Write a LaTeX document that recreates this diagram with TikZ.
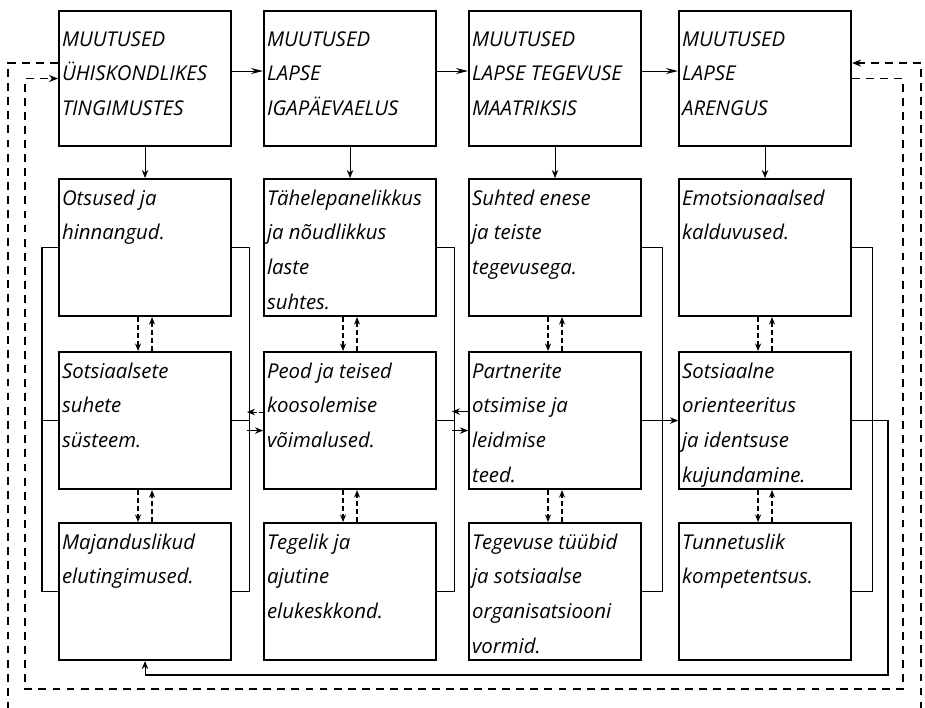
\documentclass[tikz,border=0pt]{standalone}
\usepackage{fontspec}
\setmainfont{Open Sans}
\usetikzlibrary{arrows.meta}

\newcommand{\boxfont}{\fontsize{11.6}{19.8}\selectfont\itshape}
\newcommand{\headtxt}[1]{\parbox[t][2.70cm][t]{3.32cm}{\boxfont\raggedright\rule{0pt}{0.70cm}#1}}
\newcommand{\celltxt}[1]{\parbox[t][2.74cm][t]{3.32cm}{\boxfont\raggedright\rule{0pt}{0.52cm}#1}}

\begin{document}
\begin{tikzpicture}[x=0.02cm,y=-0.02cm,
box/.style={draw,line width=1.2pt,anchor=north west,inner xsep=0.06cm,inner ysep=0pt},
link/.style={line width=0.6pt},
arr/.style={line width=0.6pt,-{Stealth[length=2.4mm,width=1.2mm]}},
tip/.style={line width=0.6pt,-{Stealth[length=1.6mm,width=1.3mm]}},
pair/.style={line width=0.7pt,dash pattern=on 2.8pt off 1.8pt,-{Stealth[length=1.5mm,width=1.2mm]}},
loopline/.style={line width=0.9pt,dash pattern=on 4.5pt off 3.5pt}
]
\useasboundingbox (0,0) rectangle (925,707);
\clip (0,0) rectangle (925,707);
% headers
\node[box] (h1) at (58,10) {\headtxt{MUUTUSED\\ÜHISKONDLIKES\\TINGIMUSTES}};
\node[box] (h2) at (263,10) {\headtxt{MUUTUSED\\LAPSE\\IGAPÄEVAELUS}};
\node[box] (h3) at (468,10) {\headtxt{MUUTUSED\\LAPSE TEGEVUSE\\MAATRIKSIS}};
\node[box] (h4) at (678,10) {\headtxt{MUUTUSED\\LAPSE\\ARENGUS}};
% first row
\node[box] (a1) at (58,178) {\celltxt{Otsused ja\\hinnangud.}};
\node[box] (a2) at (263,178) {\celltxt{Tähelepanelikkus\\ja nõudlikkus\\laste\\suhtes.}};
\node[box] (a3) at (468,178) {\celltxt{Suhted enese\\ja teiste\\tegevusega.}};
\node[box] (a4) at (678,178) {\celltxt{Emotsionaalsed\\kalduvused.}};
% second row
\node[box] (b1) at (58,351) {\celltxt{Sotsiaalsete\\suhete\\süsteem.}};
\node[box] (b2) at (263,351) {\celltxt{Peod ja teised\\koosolemise\\võimalused.}};
\node[box] (b3) at (468,351) {\celltxt{Partnerite\\otsimise ja\\leidmise\\teed.}};
\node[box] (b4) at (678,351) {\celltxt{Sotsiaalne\\orienteeritus\\ja identsuse\\kujundamine.}};
% third row
\node[box] (c1) at (58,522) {\celltxt{Majanduslikud\\elutingimused.}};
\node[box] (c2) at (263,522) {\celltxt{Tegelik ja\\ajutine\\elukeskkond.}};
\node[box] (c3) at (468,522) {\celltxt{Tegevuse tüübid\\ja sotsiaalse\\organisatsiooni\\vormid.}};
\node[box] (c4) at (678,522) {\celltxt{Tunnetuslik\\kompetentsus.}};
% header chain
\draw[arr] ([yshift=0.15cm]h1.east) -- ([yshift=0.15cm]h2.west);
\draw[arr] ([yshift=0.15cm]h2.east) -- ([yshift=0.15cm]h3.west);
\draw[arr] ([yshift=0.15cm]h3.east) -- ([yshift=0.15cm]h4.west);
\draw[tip] (h1.south) -- (a1.north);
\draw[tip] (h2.south) -- (a2.north);
\draw[tip] (h3.south) -- (a3.north);
\draw[tip] (h4.south) -- (a4.north);
% dashed pairs
\draw[pair] ([xshift=-0.14cm]a1.south) -- ([xshift=-0.14cm]b1.north);
\draw[pair] ([xshift=0.14cm]b1.north) -- ([xshift=0.14cm]a1.south);
\draw[pair] ([xshift=-0.14cm]b1.south) -- ([xshift=-0.14cm]c1.north);
\draw[pair] ([xshift=0.14cm]c1.north) -- ([xshift=0.14cm]b1.south);
\draw[pair] ([xshift=-0.14cm]a2.south) -- ([xshift=-0.14cm]b2.north);
\draw[pair] ([xshift=0.14cm]b2.north) -- ([xshift=0.14cm]a2.south);
\draw[pair] ([xshift=-0.14cm]b2.south) -- ([xshift=-0.14cm]c2.north);
\draw[pair] ([xshift=0.14cm]c2.north) -- ([xshift=0.14cm]b2.south);
\draw[pair] ([xshift=-0.14cm]a3.south) -- ([xshift=-0.14cm]b3.north);
\draw[pair] ([xshift=0.14cm]b3.north) -- ([xshift=0.14cm]a3.south);
\draw[pair] ([xshift=-0.14cm]b3.south) -- ([xshift=-0.14cm]c3.north);
\draw[pair] ([xshift=0.14cm]c3.north) -- ([xshift=0.14cm]b3.south);
\draw[pair] ([xshift=-0.14cm]a4.south) -- ([xshift=-0.14cm]b4.north);
\draw[pair] ([xshift=0.14cm]b4.north) -- ([xshift=0.14cm]a4.south);
\draw[pair] ([xshift=-0.14cm]b4.south) -- ([xshift=-0.14cm]c4.north);
\draw[pair] ([xshift=0.14cm]c4.north) -- ([xshift=0.14cm]b4.south);
% side brackets
\draw[link] (a1.west) -- ++(-16,0) |- (c1.west);
\draw[link] (b1.west) -- ++(-16,0);
\draw[link] (a1.east) -- ++(17,0) |- (c1.east);
\draw[link] (b1.east) -- ++(17,0);
\draw[link] (a2.east) -- ++(17,0) |- (c2.east);
\draw[link] (b2.east) -- ++(17,0);
\draw[link] (a3.east) -- ++(20,0) |- (c3.east);
\draw[link] (a4.east) -- ++(20,0) |- (c4.east);
% links across the second row
\draw[tip,dash pattern=on 2pt off 1.5pt] ([yshift=0.17cm]b2.west) -- ++(-16,0);
\draw[tip] ([xshift=-0.32cm,yshift=-0.2cm]b2.west) -- ([yshift=-0.2cm]b2.west);
\draw[tip] ([yshift=0.18cm]b3.west) -- ++(-16,0);
\draw[tip] ([xshift=-0.32cm,yshift=-0.2cm]b3.west) -- ([yshift=-0.2cm]b3.west);
\draw[tip] (b3.east) -- (b4.west);
\coordinate (back) at (888,675);
\draw[tip] (b4.east) -| (back) -| (c1.south);
% feedback loops
\coordinate (inR) at (903,689);
\coordinate (inL) at (25,689);
\draw[loopline,-{Stealth[length=1.8mm,width=1.4mm]}] (h4.east) -| (inR) -- (inL) |- (h1.west);
\coordinate (outL) at (8,720);
\coordinate (outR) at (921,720);
\draw[loopline,-{Stealth[length=1.8mm,width=1.4mm]}] ([yshift=0.31cm]h1.west) -| (outL) -- (outR) |- ([yshift=0.31cm]h4.east);
\end{tikzpicture}
\end{document}
